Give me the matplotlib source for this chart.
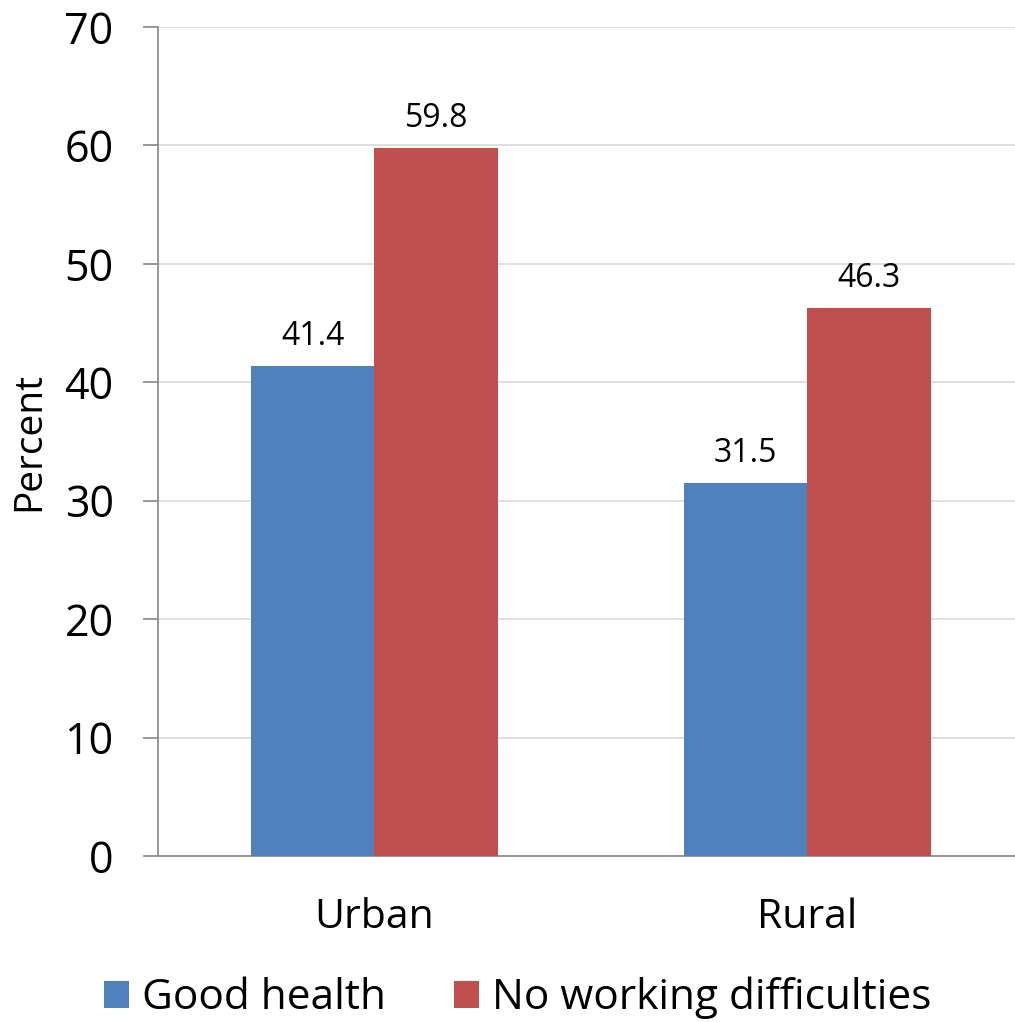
import numpy as np
import matplotlib
matplotlib.use("Agg")
import matplotlib.pyplot as plt

# survey shares by area of residence
areas = ["Urban", "Rural"]
good_health = [41.4, 31.5]
no_work_diff = [59.8, 46.3]
series_names = ["Good health", "No working difficulties"]
yticks = [0, 10, 20, 30, 40, 50, 60, 70]

plt.rcParams['font.family'] = ['Open Sans', 'DejaVu Sans']

fig = plt.figure(figsize=(10.15, 10.22), dpi=100)
ax = fig.add_axes([0.1557, 0.1624, 0.853, 0.8112])

x = np.arange(len(areas))
w = 0.286
colors = ["#4F81BD", "#C0504D"]
bars = []
for i, (vals, col) in enumerate(zip([good_health, no_work_diff], colors)):
    b = ax.bar(x + (i - 0.5) * w, vals, width=w, color=col,
               label=series_names[i], zorder=3)
    bars.append(b)
    for rect, v in zip(b, vals):
        ax.annotate(f"{v:.1f}", (rect.get_x() + rect.get_width() / 2, v),
                    xytext=(0, 15), textcoords="offset points",
                    ha="center", va="baseline", fontsize=23)

ax.set_xlim(-0.5, 1.5)
ax.set_ylim(0, 70)
ax.set_yticks(yticks)
ax.set_xticks(x)
ax.set_xticklabels(areas)
ax.tick_params(axis="y", labelsize=31, length=11, color="#888888", width=1.2, pad=21)
ax.tick_params(axis="x", labelsize=29.5, length=0, pad=30)
ax.yaxis.grid(True, color="#d9d9d9", linewidth=1.2, zorder=0)
ax.set_axisbelow(True)
for s in ["top", "right"]:
    ax.spines[s].set_visible(False)
ax.spines["left"].set_color("#888888")
ax.spines["bottom"].set_color("#888888")
ax.spines["left"].set_linewidth(1.2)
ax.spines["bottom"].set_linewidth(1.2)
ax.set_ylabel("Percent", fontsize=28, labelpad=12)

fig.legend(handles=bars, labels=series_names, loc="center",
           bbox_to_anchor=(0.51, 0.0235), ncol=2, frameon=False,
           fontsize=30.5, handlelength=0.6, handleheight=0.6,
           handletextpad=0.3, columnspacing=1.6, borderpad=0)

fig.savefig("out.png", dpi=100)
